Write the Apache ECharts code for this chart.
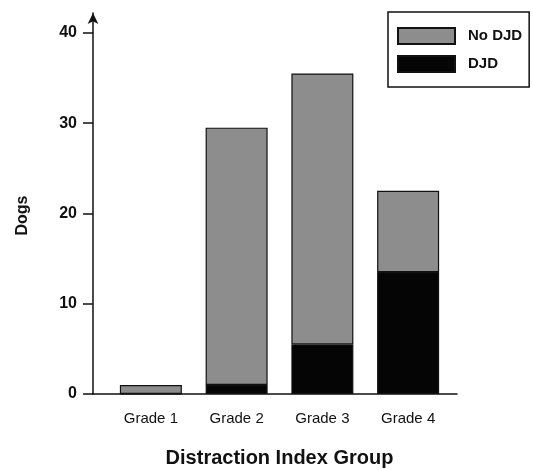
<!DOCTYPE html>
<html>
<head>
<meta charset="utf-8">
<script src="https://cdn.jsdelivr.net/npm/echarts@6/dist/echarts.min.js"></script>
<style>
  html, body { margin: 0; padding: 0; background: #fff; }
  #main { width: 533px; height: 470px; }
</style>
</head>
<body>
<div id="main"></div>
<script>
// Dogs by distraction index group
var categories = ['Grade 1', 'Grade 2', 'Grade 3', 'Grade 4'];
var noDjd = [1, 28.5, 30, 9];
var djd = [0, 1, 5.5, 13.5];
var yTicks = [0, 10, 20, 30, 40];

var chart = echarts.init(document.getElementById('main'));
var font = 'Liberation Sans, Arial, sans-serif';

var option = {
    animation: false,
    backgroundColor: '#fff',
    textStyle: { fontFamily: font },
    legend: {
        data: ['No DJD', 'DJD'],
        orient: 'vertical',
        left: 388,
        top: 12,
        padding: [15, 7, 14, 9],
        icon: 'rect',
        itemWidth: 57,
        itemHeight: 16,
        itemGap: 10,
        borderColor: '#111',
        borderWidth: 1.5,
        textStyle: { fontSize: 15, fontWeight: 'bold', color: '#111', fontFamily: font, padding: [0, 0, 0, 8] }
    },
    grid: [
        { left: 108, right: 82, top: 13, bottom: 76, outerBoundsMode: 'none', containLabel: false },
        { left: 93, right: 76, top: 13, bottom: 76, outerBoundsMode: 'none', containLabel: false }
    ],
    xAxis: [{
        type: 'category',
        data: categories,
        name: 'Distraction Index Group',
        nameLocation: 'middle',
        nameGap: 54,
        nameTextStyle: { fontSize: 20, fontWeight: 'bold', color: '#111', fontFamily: font },
        axisLine: { show: false },
        axisTick: { show: false },
        axisLabel: { fontSize: 15, color: '#111', margin: 17, fontFamily: font }
    }, {
        gridIndex: 1,
        type: 'value',
        min: 0,
        max: 1,
        axisLine: { show: true, lineStyle: { color: '#111', width: 1.5 } },
        axisTick: { show: false },
        axisLabel: { show: false },
        splitLine: { show: false }
    }],
    yAxis: [{
        type: 'value',
        min: 0,
        max: 42.2,
        offset: 15,
        name: 'Dogs',
        nameLocation: 'middle',
        nameGap: 62,
        nameTextStyle: { fontSize: 16, fontWeight: 'bold', color: '#111', fontFamily: font, padding: [0, 24, 0, 0] },
        axisLine: {
            show: true,
            symbol: ['none', 'arrow'],
            symbolSize: [8, 11],
            lineStyle: { color: '#111', width: 1.5 }
        },
        axisTick: { show: true, length: 10, customValues: yTicks, lineStyle: { color: '#111', width: 1.5 } },
        axisLabel: { customValues: yTicks, fontSize: 16, fontWeight: 'bold', color: '#111', margin: 16, fontFamily: font },
        splitLine: { show: false }
    }, {
        gridIndex: 1,
        type: 'value',
        show: false
    }],
    series: [{
        name: 'DJD',
        type: 'bar',
        stack: 'dogs',
        data: djd,
        barWidth: 62,
        itemStyle: { color: '#050505', borderColor: '#111', borderWidth: 1.2 }
    }, {
        name: 'No DJD',
        type: 'bar',
        stack: 'dogs',
        data: noDjd,
        barWidth: 62,
        itemStyle: { color: '#8d8d8d', borderColor: '#111', borderWidth: 1.2 }
    }]
};

chart.setOption(option);
</script>
</body>
</html>
